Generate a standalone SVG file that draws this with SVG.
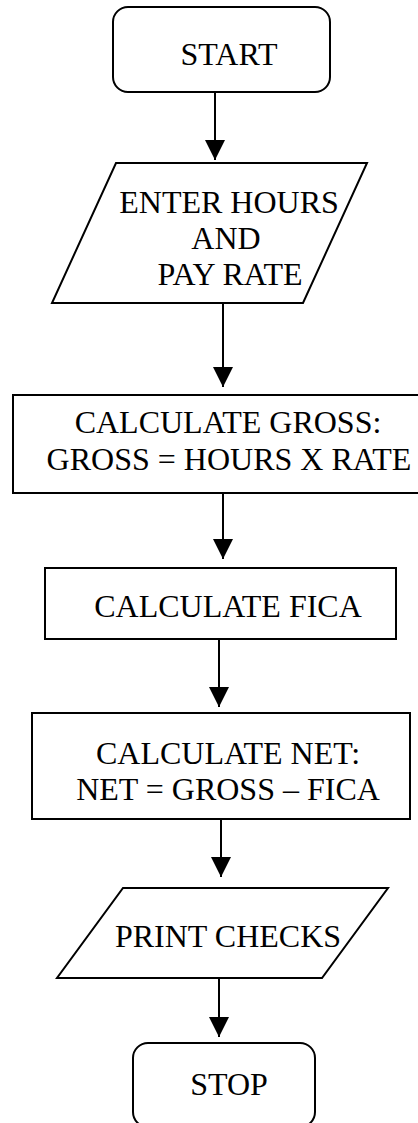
<svg xmlns="http://www.w3.org/2000/svg" width="418" height="1123" viewBox="0 0 418 1123">
<style>
.shape{fill:#fff;stroke:#000;stroke-width:2}
.lbl{font-family:"Liberation Serif","Times New Roman",serif;font-size:32px;fill:#000;text-anchor:middle}
.conn{stroke:#000;stroke-width:2;fill:none}
</style>
<defs>
<marker id="arrow" markerUnits="userSpaceOnUse" markerWidth="22" markerHeight="20" refX="20" refY="10" orient="auto">
<path d="M0,0 L20,10 L0,20 Z" fill="#000"/>
</marker>
</defs>
<rect width="418" height="1123" fill="#fff"/>
<g id="connectors">
<line class="conn" x1="215" y1="92" x2="215" y2="160" marker-end="url(#arrow)"/>
<line class="conn" x1="223" y1="303" x2="223" y2="387" marker-end="url(#arrow)"/>
<line class="conn" x1="223" y1="493" x2="223" y2="559" marker-end="url(#arrow)"/>
<line class="conn" x1="219" y1="639" x2="219" y2="707" marker-end="url(#arrow)"/>
<line class="conn" x1="221" y1="819" x2="221" y2="877" marker-end="url(#arrow)"/>
<line class="conn" x1="219" y1="978" x2="219" y2="1037" marker-end="url(#arrow)"/>
</g>
<g id="start">
<rect class="shape" x="113" y="7" width="217" height="85" rx="15"/>
<text class="lbl" x="229" y="65">START</text>
</g>
<g id="enter">
<polygon class="shape" points="116,163 367,163 303,303 52,303"/>
<text class="lbl" x="229" y="213">ENTER HOURS</text>
<text class="lbl" x="226" y="249">AND</text>
<text class="lbl" x="230" y="285">PAY RATE</text>
</g>
<g id="gross">
<rect class="shape" x="13" y="395" width="410" height="98"/>
<text class="lbl" x="228" y="433">CALCULATE GROSS:</text>
<text class="lbl" x="229" y="470">GROSS = HOURS X RATE</text>
</g>
<g id="fica">
<rect class="shape" x="45" y="568" width="351" height="71"/>
<text class="lbl" x="228" y="617">CALCULATE FICA</text>
</g>
<g id="net">
<rect class="shape" x="32" y="713" width="378" height="106"/>
<text class="lbl" x="228" y="764">CALCULATE NET:</text>
<text class="lbl" x="228" y="800">NET = GROSS – FICA</text>
</g>
<g id="print">
<polygon class="shape" points="123,888 388,888 322,978 57,978"/>
<text class="lbl" x="228" y="947">PRINT CHECKS</text>
</g>
<g id="stop">
<rect class="shape" x="133" y="1043" width="182" height="84" rx="15"/>
<text class="lbl" x="229" y="1095">STOP</text>
</g>
</svg>
